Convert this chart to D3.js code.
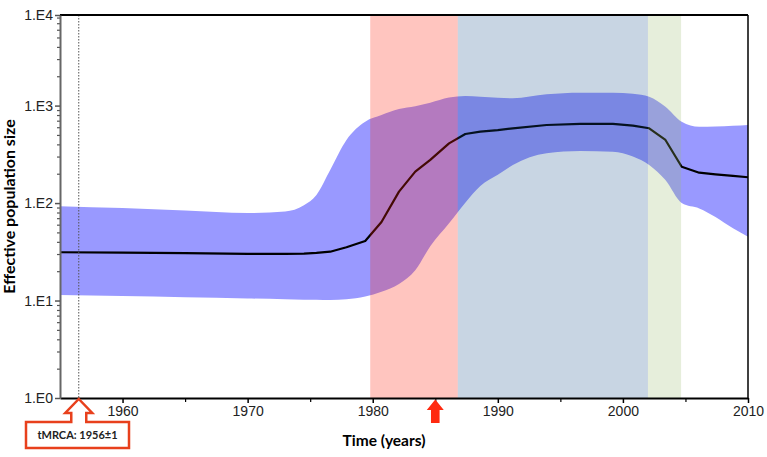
<!DOCTYPE html>
<html>
<head>
<meta charset="utf-8">
<script src="https://cdn.jsdelivr.net/npm/d3@7"></script>
<style>
  body { margin: 0; background: #fff; }
  svg { display: block; }
</style>
</head>
<body>
<div id="chart"></div>
<script>
// Bayesian skyline: years, median and 95% HPD bounds
const years  = [1955, 1960, 1965, 1970, 1973, 1974.5, 1975.5, 1976.6, 1977.9, 1979.4, 1980.7, 1982.1, 1983.4, 1984.6, 1986.1, 1987.4, 1988.6, 1990, 1991.2, 1993.9, 1996.6, 1999.2, 2000.8, 2002.1, 2003.4, 2004.7, 2006.1, 2007.4, 2008.8, 2010];
const median = [31.3, 31, 30.6, 30.1, 30.1, 30.3, 30.8, 31.7, 35.2, 40.8, 64, 131, 210, 277, 410, 511, 540, 560, 585, 632, 648, 648, 622, 585, 444, 236, 205, 197, 190, 184];
const upper  = [93, 89, 84, 79, 82, 95, 121, 218, 444, 684, 800, 920, 985, 1071, 1210, 1254, 1233, 1205, 1188, 1305, 1356, 1356, 1320, 1234, 975, 684, 607, 610, 620, 632];
const lower  = [11.4, 11.1, 10.8, 10.5, 10.3, 10.2, 10.2, 10.1, 10.3, 11.0, 12.3, 14.8, 20.5, 36, 62, 101, 150, 195, 246, 324, 342, 336, 300, 246, 172, 100, 88, 72, 55, 45];

// Shaded periods
const bandStart  = [1979.8, 1986.8, 2002.0];
const bandEnd    = [1986.8, 2002.0, 2004.65];
const bandColors = ["rgb(255,36,14)", "rgb(21,77,136)", "rgb(156,188,112)"];
const bandOpacity = [0.265, 0.235, 0.25];

// Axis ticks
const xTicks = [1960, 1970, 1980, 1990, 2000, 2010];
const xMinor = [1965, 1975, 1985, 1995, 2005];
const yTicks = [1, 10, 100, 1000, 8500];
const yTickLabels = ["1.E0", "1.E1", "1.E2", "1.E3", "1.E4"];

const tmrcaYear = 1956.5;
const arrowYear = 1985;

const data = years.map((y, i) => ({ year: y, med: median[i], hi: upper[i], lo: lower[i] }));

const width = 767, height = 457;
const margin = { left: 60, right: 19, top: 15, bottom: 59 };

const svg = d3.select("#chart").append("svg")
    .attr("width", width)
    .attr("height", height);

const x = d3.scaleLinear()
    .domain([1955, 2010])
    .range([margin.left, width - margin.right]);

const y = d3.scaleLog()
    .domain([1, 8500])
    .range([height - margin.bottom, margin.top]);

// HPD area
const area = d3.area()
    .x(d => x(d.year))
    .y0(d => y(d.lo))
    .y1(d => y(d.hi))
    .curve(d3.curveMonotoneX);

svg.append("path")
    .datum(data)
    .attr("d", area)
    .attr("fill", "#9999ff");

// Median line
const line = d3.line()
    .x(d => x(d.year))
    .y(d => y(d.med));

svg.append("path")
    .datum(data)
    .attr("d", line)
    .attr("fill", "none")
    .attr("stroke", "#000")
    .attr("stroke-width", 2.2)
    .attr("stroke-linejoin", "round");

// Coloured periods drawn over the curves
svg.append("g")
    .selectAll("rect")
    .data(bandStart)
    .enter().append("rect")
    .attr("x", d => x(d))
    .attr("width", (d, i) => x(bandEnd[i]) - x(d))
    .attr("y", y.range()[1])
    .attr("height", y.range()[0] - y.range()[1])
    .attr("fill", (d, i) => bandColors[i])
    .attr("fill-opacity", (d, i) => bandOpacity[i]);

// tMRCA dotted line
svg.append("line")
    .attr("x1", x(tmrcaYear))
    .attr("x2", x(tmrcaYear))
    .attr("y1", y.range()[1])
    .attr("y2", y.range()[0])
    .attr("stroke", "#555")
    .attr("stroke-width", 1)
    .attr("stroke-dasharray", "1.5,1.5");

// Frame: top and right
svg.append("line")
    .attr("x1", x.range()[0]).attr("x2", x.range()[1])
    .attr("y1", y.range()[1]).attr("y2", y.range()[1])
    .attr("stroke", "#000").attr("stroke-width", 2);

svg.append("line")
    .attr("x1", x.range()[1]).attr("x2", x.range()[1])
    .attr("y1", y.range()[1]).attr("y2", y.range()[0])
    .attr("stroke", "#000").attr("stroke-width", 1.5);

const tickFont = "'Liberation Sans', Arial, sans-serif";

// X axis
const xAxis = svg.append("g")
    .attr("transform", `translate(0,${y.range()[0]})`)
    .call(d3.axisBottom(x).tickValues(xTicks).tickSize(5).tickSizeOuter(0).tickFormat(d3.format("d")));

xAxis.select(".domain").attr("stroke", "#000").attr("stroke-width", 2);
xAxis.selectAll(".tick line").attr("stroke", "#000").attr("stroke-width", 1.5);
xAxis.selectAll(".tick text")
    .attr("font-family", tickFont)
    .attr("font-size", "14px")
    .attr("fill", "#222")
    .attr("dy", "0.95em")
    .attr("y", 5);

svg.append("g")
    .attr("transform", `translate(0,${y.range()[0]})`)
    .call(d3.axisBottom(x).tickValues(xMinor).tickSize(4).tickFormat(""))
    .call(g => g.select(".domain").remove())
    .selectAll(".tick line").attr("stroke", "#000").attr("stroke-width", 1.2);

// Y axis
const minorY = y.ticks().filter(d => !yTicks.includes(d) && d < 8500);

svg.append("g")
    .attr("transform", `translate(${x.range()[0]},0)`)
    .call(d3.axisLeft(y).tickValues(minorY).tickSize(3).tickFormat(""))
    .call(g => g.select(".domain").remove())
    .selectAll(".tick line").attr("stroke", "#555").attr("stroke-width", 1.2);

const yAxis = svg.append("g")
    .attr("transform", `translate(${x.range()[0]},0)`)
    .call(d3.axisLeft(y).tickValues(yTicks).tickSize(5).tickSizeOuter(0)
        .tickFormat((d, i) => yTickLabels[i]));

yAxis.select(".domain").attr("stroke", "#666").attr("stroke-width", 2);
yAxis.selectAll(".tick line").attr("stroke", "#555").attr("stroke-width", 1.5);
yAxis.selectAll(".tick text")
    .attr("font-family", tickFont)
    .attr("font-size", "14px")
    .attr("fill", "#222")
    .attr("x", -7);

// Axis titles
const titleFont = "Lato, 'Open Sans', sans-serif";

svg.append("text")
    .attr("x", 384)
    .attr("y", 446)
    .attr("text-anchor", "middle")
    .attr("font-family", titleFont)
    .attr("font-weight", "bold")
    .attr("font-size", "15.5px")
    .text("Time (years)");

svg.append("text")
    .attr("transform", `translate(15,${(y.range()[0] + y.range()[1]) / 2}) rotate(-90)`)
    .attr("text-anchor", "middle")
    .attr("font-family", titleFont)
    .attr("font-weight", "bold")
    .attr("font-size", "16px")
    .text("Effective population size");

// Solid red arrow at 1985
const ax = x(arrowYear), base = y.range()[0];
svg.append("path")
    .attr("d", `M${ax},${base + 1.5} L${ax + 8.5},${base + 12} L${ax + 4.3},${base + 12} L${ax + 4.3},${base + 25} L${ax - 4.3},${base + 25} L${ax - 4.3},${base + 12} L${ax - 8.5},${base + 12} Z`)
    .attr("fill", "#ff2a10");

// tMRCA callout: outlined arrow joined to a box
const tx = x(tmrcaYear);
const boxL = 26, boxR = 129, boxT = 422, boxB = 448;
svg.append("path")
    .attr("d", `M${boxL},${boxT} L${tx - 7.5},${boxT} L${tx - 7.5},${base + 15} L${tx - 13.5},${base + 15} L${tx},${base + 1} L${tx + 13.5},${base + 15} L${tx + 7.5},${base + 15} L${tx + 7.5},${boxT} L${boxR},${boxT} L${boxR},${boxB} L${boxL},${boxB} Z`)
    .attr("fill", "#fff")
    .attr("stroke", "#e8401c")
    .attr("stroke-width", 2.5)
    .attr("stroke-linejoin", "miter");

svg.append("text")
    .attr("x", (boxL + boxR) / 2)
    .attr("y", (boxT + boxB) / 2 + 4)
    .attr("text-anchor", "middle")
    .attr("font-family", titleFont)
    .attr("font-weight", "bold")
    .attr("font-size", "11px")
    .attr("fill", "#222")
    .text("tMRCA: 1956±1");
</script>
</body>
</html>
